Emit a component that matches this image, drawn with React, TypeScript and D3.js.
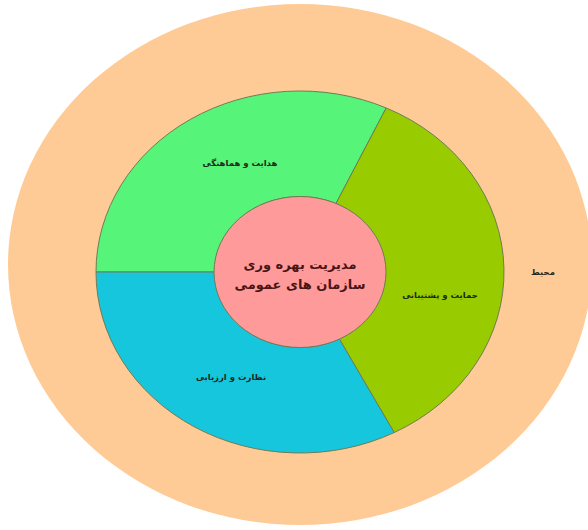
import React from "react";
import * as d3 from "d3";

const segmentNames = ["هدایت و هماهنگی", "حمایت و پشتیبانی", "نظارت و ارزیابی"];
const segmentValues = [115, 127.5, 117.5];
const segmentColors = ["#57F47A", "#99CC00", "#16C6DD"];
const centerLines = ["مدیریت بهره وری", "سازمان های عمومی"];
const environmentLabel = "محیط";

const W = 588;
const H = 530;

export default function App() {
  const cx = 300;
  const cy = 272;
  const outerRx = 204;
  const outerRy = 181;
  const innerRx = 86;
  const innerRy = 75.5;
  const sx = outerRx / outerRy;

  const pie = d3
    .pie<number>()
    .sort(null)
    .startAngle(-Math.PI / 2)
    .endAngle((3 * Math.PI) / 2)
    .value((d) => d);
  const arcs = pie(segmentValues);
  const arc = d3.arc<d3.PieArcDatum<number>>().innerRadius(innerRy).outerRadius(outerRy);

  const labelPos = [
    { x: 240, y: 166 },
    { x: 440, y: 298 },
    { x: 231, y: 380 },
  ];

  const stroke = "#6f7c55";
  const font = "'DejaVu Sans', sans-serif";

  return (
    <svg
      width={W}
      height={H}
      style={{ position: "absolute", left: 0, top: 0, background: "#fff" }}
    >
      <ellipse cx={300} cy={264.5} rx={292} ry={260.5} fill="#FECB96" />
      <g transform={`translate(${cx},${cy}) scale(${sx},1)`}>
        {arcs.map((a, i) => (
          <path
            key={i}
            d={arc(a) || ""}
            fill={segmentColors[i]}
            stroke={stroke}
            strokeWidth={1}
            vectorEffect="non-scaling-stroke"
          />
        ))}
      </g>
      <ellipse cx={cx} cy={cy} rx={innerRx} ry={innerRy} fill="#FF9A9A" stroke={stroke} strokeWidth={1} />
      {centerLines.map((t, i) => (
        <text
          key={i}
          x={cx}
          y={cy - 3 + i * 20}
          textAnchor="middle"
          direction="rtl"
          fontFamily={font}
          fontWeight="bold"
          fontSize={13}
          fill="#4a1515"
        >
          {t}
        </text>
      ))}
      {segmentNames.map((t, i) => (
        <text
          key={i}
          x={labelPos[i].x}
          y={labelPos[i].y}
          textAnchor="middle"
          direction="rtl"
          fontFamily={font}
          fontWeight="bold"
          fontSize={8.5}
          fill="#1d2a1a"
        >
          {t}
        </text>
      ))}
      <text
        x={543}
        y={275}
        textAnchor="middle"
        direction="rtl"
        fontFamily={font}
        fontWeight="bold"
        fontSize={8.5}
        fill="#2a2a1a"
      >
        {environmentLabel}
      </text>
    </svg>
  );
}
